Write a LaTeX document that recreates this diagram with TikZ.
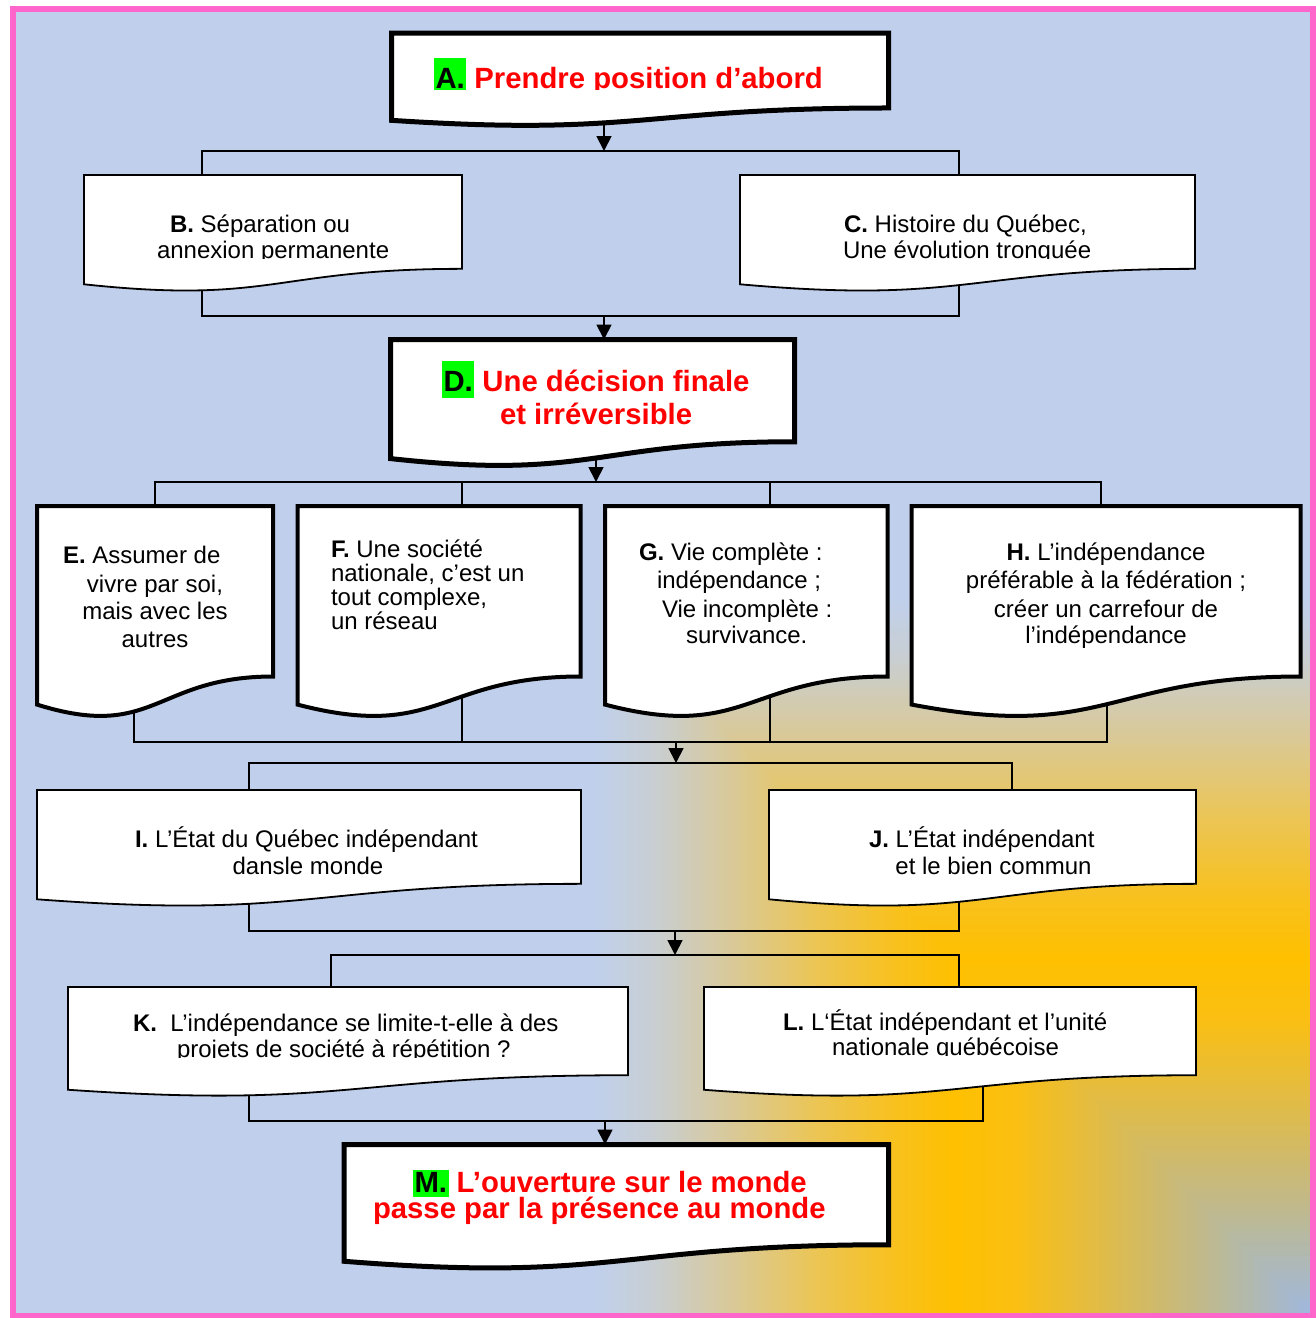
\documentclass[tikz,border=0pt]{standalone}
\usepackage{fontspec}
\setmainfont{Liberation Sans}
\usetikzlibrary{arrows.meta}
\definecolor{bgblue}{RGB}{192,208,236}
\definecolor{framepink}{RGB}{255,102,204}
\definecolor{hlgreen}{RGB}{0,255,0}
\definecolor{titlered}{RGB}{255,0,0}
\definecolor{g720}{RGB}{192,208,236}
\definecolor{g660}{RGB}{200,206,210}
\definecolor{g580}{RGB}{218,201,150}
\definecolor{g500}{RGB}{235,197,85}
\definecolor{g420}{RGB}{248,193,30}
\definecolor{g360}{RGB}{255,192,0}
\definecolor{g300}{RGB}{250,191,18}
\definecolor{g200}{RGB}{220,187,80}
\definecolor{g100}{RGB}{188,185,148}
\definecolor{g0}{RGB}{158,184,226}
\pgfdeclarelayer{back}
\pgfdeclarelayer{links}
\pgfsetlayers{back,links,main}
% green highlighted label: text, depth, total height
\newcommand\greenmark[3]{{\setlength{\fboxsep}{0pt}\colorbox{hlgreen}{\rule[-#2]{0pt}{#3}\kern1.5pt\textcolor{black}{#1}\kern1.5pt}}}
% document-shaped box: name, style, x, y, w, h
\newcommand\docbox[6]{%
  \path[#2] (#3,#4) -- ({#3+#5},#4) -- ({#3+#5},{#4+0.802*#6})
    .. controls ({#3+0.5*#5},{#4+0.802*#6}) and ({#3+0.5*#5},{#4+1.1075*#6}) .. (#3,{#4+0.934*#6}) -- cycle;
  \node[boxnode, minimum width=#5pt, minimum height=#6pt] (#1) at (#3,#4) {};}
\tikzset{
  boxnode/.style={draw=none, rectangle, inner sep=0pt, outer sep=0pt, anchor=north west},
  docthick/.style={fill=white, draw=black, line width=5},
  docmid/.style={fill=white, draw=black, line width=4},
  docthin/.style={fill=white, draw=black, line width=1.8},
  conn/.style={draw=black, line width=1.8},
  arr/.style={conn, -{Triangle[width=15pt,length=15pt]}},
  txt/.style={font=\fontsize{24}{28}\selectfont, inner sep=0pt, outer sep=0pt, text=black},
  ttl/.style={font=\fontsize{29.3}{30}\selectfont\bfseries, inner sep=0pt, outer sep=0pt, text=titlered}
}
\begin{document}
\begin{tikzpicture}[x=1pt,y=-1pt]
\useasboundingbox (0,0) rectangle (1316,1318);
% ---------- background ----------
\begin{pgfonlayer}{back}
\fill[white] (0,0) rectangle (1316,1318);
\fill[bgblue] (13,9) rectangle (1313,1315.5);
\begin{scope}
\clip (13,9) rectangle (1313,1315.5);
\foreach \da/\db/\ca/\cb in {660/720/g660/g720, 580/660/g580/g660, 500/580/g500/g580, 420/500/g420/g500, 360/420/g360/g420, 300/360/g300/g360, 200/300/g200/g300, 100/200/g100/g200, 0/100/g0/g100}{
  \foreach \i in {0,...,19}{
    \pgfmathsetmacro\dd{\db-(\db-\da)*\i/20}
    \pgfmathsetmacro\pp{100*\i/20}
    \fill[fill={\ca!\pp!\cb}] ({1313-\dd},{1315.5-\dd}) rectangle (1313,1315.5);
  }
}
\end{scope}
\draw[framepink, line width=6] (13,9) rectangle (1313,1315.5);
\end{pgfonlayer}
% ---------- boxes ----------
\docbox{A}{docthick}{391.5}{33}{497}{93.5}
\docbox{B}{docthin}{84}{175}{378}{117}
\docbox{C}{docthin}{740}{175}{455}{117}
\docbox{D}{docthick}{390.5}{339.5}{404}{127.5}
\docbox{E}{docmid}{37}{506}{236}{212.6}
\docbox{F}{docmid}{297.5}{506}{283}{212.6}
\docbox{G}{docmid}{605}{506}{282.5}{212.6}
\docbox{H}{docmid}{911.7}{506}{388.8}{212.6}
\docbox{I}{docthin}{37}{790}{544}{117}
\docbox{J}{docthin}{769}{790}{427}{117}
\docbox{K}{docthin}{68}{987}{560}{110}
\docbox{L}{docthin}{704}{987}{492}{110}
\docbox{M}{docthick}{344}{1144.5}{544.5}{125}
% ---------- texts ----------
\begin{scope}
\clip (391.5,33) rectangle (888.5,89.5);
\node[ttl, anchor=base west] (At) at (434,88) {\greenmark{A.}{7pt}{37pt} Prendre position d’abord};
\end{scope}
\begin{scope}
\clip (84,175) rectangle (462,258.5);
\node[txt, anchor=base west] (Bt1) at (170,232) {\textbf{B.} Séparation ou};
\node[txt, anchor=base west] (Bt2) at (157,258) {annexion permanente};
\end{scope}
\begin{scope}
\clip (740,175) rectangle (1195,258.5);
\node[txt, anchor=base west] (Ct1) at (844,232) {\textbf{C.} Histoire du Québec,};
\node[txt, anchor=base west] (Ct2) at (843,258) {Une évolution tronquée};
\end{scope}
\node[ttl, anchor=base west] (Dt1) at (442,391) {\greenmark{D.}{7pt}{37pt} Une décision finale};
\node[ttl, anchor=base west] (Dt2) at (500,424) {et irréversible};
\node[txt, anchor=base west] (Et1) at (63,563) {\textbf{E.} Assumer de};
\node[txt, anchor=base] (Et2) at (155,592) {vivre par soi,};
\node[txt, anchor=base] (Et3) at (155,619) {mais avec les};
\node[txt, anchor=base] (Et4) at (155,647) {autres};
\node[txt, anchor=base west] (Ft1) at (331,557) {\textbf{F.} Une société};
\node[txt, anchor=base west] (Ft2) at (331,581) {nationale, c’est un};
\node[txt, anchor=base west] (Ft3) at (331,605) {tout complexe,};
\node[txt, anchor=base west] (Ft4) at (331,629) {un réseau};
\node[txt, anchor=base west] (Gt1) at (639,560) {\textbf{G.} Vie complète :};
\node[txt, anchor=base west] (Gt2) at (657,588) {indépendance ;};
\node[txt, anchor=base west] (Gt3) at (662,617) {Vie incomplète :};
\node[txt, anchor=base west] (Gt4) at (686,643) {survivance.};
\node[txt, anchor=base] (Ht1) at (1106,560) {\textbf{H.} L’indépendance};
\node[txt, anchor=base] (Ht2) at (1106,588) {préférable à la fédération ;};
\node[txt, anchor=base] (Ht3) at (1106,617) {créer un carrefour de};
\node[txt, anchor=base] (Ht4) at (1106,643) {l’indépendance};
\begin{scope}
\clip (37,790) rectangle (581,874.5);
\node[txt, anchor=base west] (It1) at (135,847) {\textbf{I.} L’État du Québec indépendant};
\node[txt, anchor=base] (It2) at (308,874) {dansle monde};
\end{scope}
\begin{scope}
\clip (769,790) rectangle (1196,874.5);
\node[txt, anchor=base west] (Jt1) at (869,847) {\textbf{J.} L’État indépendant};
\node[txt, anchor=base] (Jt2) at (993.5,874) {et le bien commun};
\end{scope}
\begin{scope}
\clip (68,987) rectangle (628,1057.5);
\node[txt, anchor=base west] (Kt1) at (133,1031) {\textbf{K.}\ \ L’indépendance se limite-t-elle à des};
\node[txt, anchor=base west] (Kt2) at (177,1057) {projets de société à répétition ?};
\end{scope}
\begin{scope}
\clip (704,987) rectangle (1196,1055.5);
\node[txt, anchor=base west] (Lt1) at (783,1030) {\textbf{L.} L‘État indépendant et l’unité};
\node[txt, anchor=base] (Lt2) at (945.5,1055) {nationale québécoise};
\end{scope}
\node[ttl, anchor=base west] (Mt1) at (413,1192) {\greenmark{M.}{5pt}{27pt} L’ouverture sur le monde};
\node[ttl, anchor=base west] (Mt2) at (373,1218) {passe par la présence au monde};
% ---------- connectors ----------
\begin{pgfonlayer}{links}
% A -> B, C
\coordinate (s1) at (604,151);
\draw[arr] (A.center -| s1) -- (s1);
\coordinate (b1l) at (202,151);
\coordinate (b1r) at (959,151);
\draw[conn] (b1l |- B.north) -- (b1l) -- (b1r) -- (b1r |- C.north);
% B, C -> D
\coordinate (b2l) at (202,316);
\coordinate (b2r) at (959,316);
\draw[conn] (b2l |- B.center) -- (b2l) -- (b2r) -- (b2r |- C.center);
\coordinate (s2) at (604,316);
\draw[arr] (s2) -- (s2 |- D.north);
% D -> E, F, G, H
\coordinate (s3) at (596,482);
\draw[arr] (D.center -| s3) -- (s3);
\coordinate (b3a) at (155,482);
\coordinate (b3b) at (462,482);
\coordinate (b3c) at (770,482);
\coordinate (b3d) at (1101,482);
\draw[conn] (b3a |- E.north) -- (b3a) -- (b3d) -- (b3d |- H.north);
\draw[conn] (b3b) -- (b3b |- F.north);
\draw[conn] (b3c) -- (b3c |- G.north);
% E, F, G, H -> I, J
\coordinate (b4a) at (134,742);
\coordinate (b4b) at (462,742);
\coordinate (b4c) at (770,742);
\coordinate (b4d) at (1107,742);
\draw[conn] (b4a |- E.center) -- (b4a) -- (b4d) -- (b4d |- H.center);
\draw[conn] (b4b |- F.center) -- (b4b);
\draw[conn] (b4c |- G.center) -- (b4c);
\coordinate (s4a) at (676,742);
\coordinate (s4) at (676,763);
\draw[arr] (s4a) -- (s4);
\coordinate (b5l) at (249,763);
\coordinate (b5r) at (1012,763);
\draw[conn] (b5l |- I.north) -- (b5l) -- (b5r) -- (b5r |- J.north);
% I, J -> K, L
\coordinate (b6l) at (249,931);
\coordinate (b6r) at (959,931);
\draw[conn] (b6l |- I.center) -- (b6l) -- (b6r) -- (b6r |- J.center);
\coordinate (s5a) at (675,931);
\coordinate (s5) at (675,955);
\draw[arr] (s5a) -- (s5);
\coordinate (b7l) at (331,955);
\coordinate (b7r) at (959,955);
\draw[conn] (b7l |- K.north) -- (b7l) -- (b7r) -- (b7r |- L.north);
% K, L -> M
\coordinate (b8l) at (249,1121);
\coordinate (b8r) at (983,1121);
\draw[conn] (b8l |- K.center) -- (b8l) -- (b8r) -- (b8r |- L.center);
\coordinate (s6) at (605,1121);
\draw[arr] (s6) -- (s6 |- M.north);
\end{pgfonlayer}
\end{tikzpicture}
\end{document}
